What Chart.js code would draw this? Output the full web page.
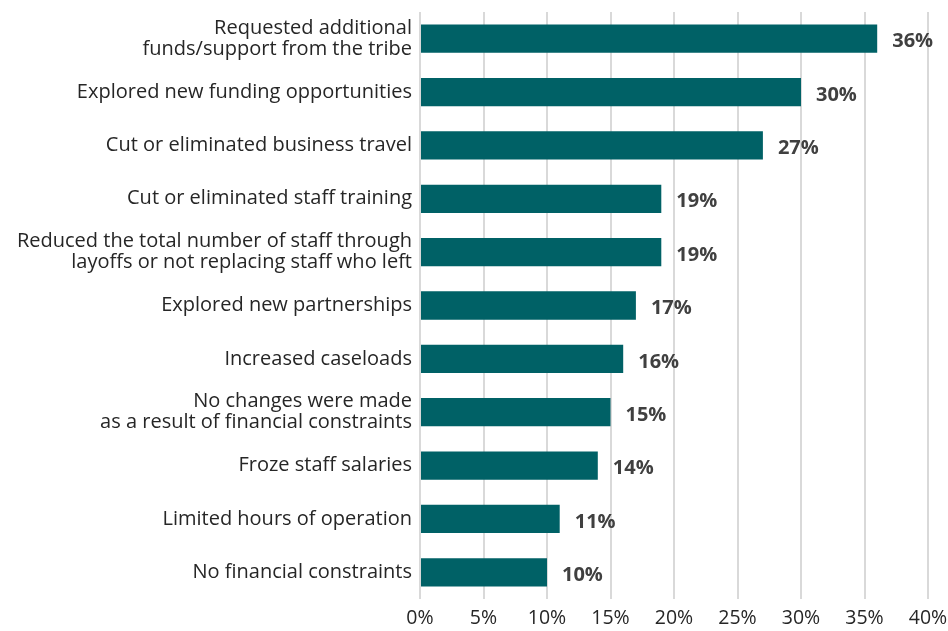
<!DOCTYPE html>
<html>
<head>
<meta charset="utf-8">
<script src="https://cdn.jsdelivr.net/npm/chart.js@4"></script>
<style>
  html, body { margin: 0; padding: 0; background: #fff; }
  #wrap { width: 948px; height: 631px; }
</style>
</head>
<body>
<div id="wrap"><canvas id="changesChart"></canvas></div>
<script>
// Responses, top to bottom
var categories = [
  ['Requested additional', 'funds/support from the tribe'],
  'Explored new funding opportunities',
  'Cut or eliminated business travel',
  'Cut or eliminated staff training',
  ['Reduced the total number of staff through', 'layoffs or not replacing staff who left'],
  'Explored new partnerships',
  'Increased caseloads',
  ['No changes were made', 'as a result of financial constraints'],
  'Froze staff salaries',
  'Limited hours of operation',
  'No financial constraints'
];
var percents = [36, 30, 27, 19, 19, 17, 16, 15, 14, 11, 10];
var axisMax = 40;
var axisStep = 5;

var fontFamily = '"Open Sans", Lato, sans-serif';

// writes the value at the end of each bar
var valueLabels = {
  id: 'valueLabels',
  afterDatasetsDraw: function(chart) {
    var ctx = chart.ctx;
    var meta = chart.getDatasetMeta(0);
    ctx.save();
    ctx.font = 'bold 20px ' + fontFamily;
    ctx.fillStyle = '#404040';
    ctx.textAlign = 'left';
    ctx.textBaseline = 'middle';
    meta.data.forEach(function(bar, i) {
      ctx.fillText(percents[i] + '%', bar.x + 15, bar.y + 3);
    });
    ctx.restore();
  }
};

var ctx = document.getElementById('changesChart').getContext('2d');
var myChart = new Chart(ctx, {
  type: 'bar',
  data: {
    labels: categories,
    datasets: [{
      data: percents,
      backgroundColor: '#006166',
      borderWidth: 0,
      categoryPercentage: 1,
      barPercentage: 0.53
    }]
  },
  options: {
    indexAxis: 'y',
    responsive: true,
    maintainAspectRatio: false,
    animation: false,
    layout: { padding: { top: 12, right: 0, left: 0, bottom: 0 } },
    plugins: {
      legend: { display: false },
      tooltip: { enabled: false }
    },
    scales: {
      x: {
        min: 0,
        max: axisMax,
        grid: { color: '#d9d9d9', lineWidth: 2, drawTicks: false },
        border: { display: false },
        ticks: {
          stepSize: axisStep,
          padding: 8,
          color: '#262626',
          font: { family: fontFamily, size: 19.5 },
          callback: function(v) { return v + '%'; }
        },
        afterFit: function(scale) {
          scale.height = 32;
          scale.paddingLeft = 0;
          scale.paddingRight = 20;
        }
      },
      y: {
        grid: { display: false, drawTicks: false },
        border: { display: false },
        ticks: {
          padding: 8,
          color: '#262626',
          font: { family: fontFamily, size: 20, lineHeight: 1.05 }
        },
        afterFit: function(scale) {
          scale.width = 420;
          scale.paddingTop = 0;
          scale.paddingBottom = 0;
        }
      }
    }
  },
  plugins: [valueLabels]
});
</script>
</body>
</html>
